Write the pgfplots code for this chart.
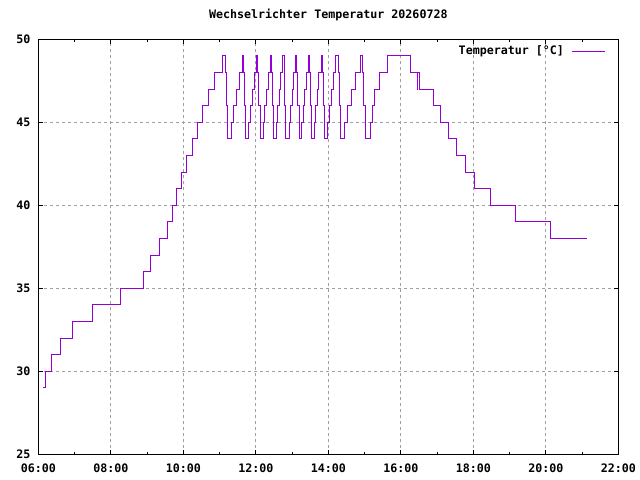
\documentclass[border=0pt]{standalone}
\usepackage{fontspec}
\setmainfont{DejaVu Sans Mono}
\usepackage{pgfplots}
\pgfplotsset{compat=1.18}
\definecolor{gpviolet}{HTML}{9400D3}
\definecolor{gpgrid}{HTML}{A0A0A0}
\newcommand{\gpfont}{\fontsize{11.7}{14}\selectfont\bfseries}
\begin{document}
\begin{tikzpicture}
\useasboundingbox[fill=white] (0,0) rectangle (640bp,480bp);
\begin{axis}[
  at={(38.3bp,25.7bp)}, anchor=south west,
  scale only axis, width=580bp, height=415bp,
  xmin=6, xmax=22, ymin=25, ymax=50,
  xtick={6,8,...,22},
  xticklabels={06:00,08:00,10:00,12:00,14:00,16:00,18:00,20:00,22:00},
  minor xtick={7,9,...,21},
  ytick={25,30,...,50},
  grid=major,
  major grid style={gpgrid, dash pattern=on 3bp off 3bp, line width=1bp},
  tick align=inside,
  major tick length=4.5bp, minor tick length=2.5bp,
  every tick/.style={black, line width=1bp},
  axis line style={line width=1bp},
  /pgf/number format/assume math mode=true,
  tick label style={font=\gpfont},
  xticklabel style={inner sep=0pt, yshift=-9bp},
  yticklabel style={inner sep=0pt, xshift=-7.8bp},
  title={Wechselrichter Temperatur 20260728},
  title style={font=\gpfont, at={(0.5,1)}, anchor=base, inner sep=0pt, yshift=15.3bp},
  legend plot pos=right,
  legend image code/.code={\draw[#1] (0bp,-0.5bp) -- (33bp,-0.5bp);},
  legend style={draw=none, fill=none, font=\gpfont, inner sep=0pt, outer sep=0pt,
    at={(1,1)}, anchor=north east, xshift=-13.3bp, yshift=-6.5bp,
    column sep=7bp, nodes={inner sep=0pt}},
]
\addplot[const plot, gpviolet, line width=1bp] coordinates {
(6.138,29) (6.212,30) (6.359,31) (6.618,32) (6.938,33) (7.495,34) (8.281,35) (8.897,36)
(9.090,37) (9.338,38) (9.570,39) (9.697,40) (9.807,41) (9.964,42) (10.102,43) (10.240,44)
(10.378,45) (10.535,46) (10.690,47) (10.855,48) (11.076,49) (11.159,48) (11.186,46) (11.214,44)
(11.324,45) (11.385,46) (11.461,47) (11.537,48) (11.628,49) (11.666,48) (11.688,46) (11.721,44)
(11.804,45) (11.848,46) (11.903,47) (11.959,48) (12.025,49) (12.052,48) (12.080,46) (12.124,44)
(12.207,45) (12.243,46) (12.290,47) (12.337,48) (12.392,49) (12.428,48) (12.450,46) (12.483,44)
(12.577,45) (12.610,46) (12.651,47) (12.692,48) (12.742,49) (12.778,48) (12.800,46) (12.833,44)
(12.924,45) (12.957,46) (12.999,47) (13.040,48) (13.090,49) (13.128,48) (13.153,46) (13.192,44)
(13.266,45) (13.302,46) (13.349,47) (13.393,48) (13.448,49) (13.476,48) (13.501,46) (13.537,44)
(13.619,45) (13.655,46) (13.699,47) (13.743,48) (13.799,49) (13.846,48) (13.862,46) (13.890,44)
(13.978,45) (14.025,46) (14.083,47) (14.143,48) (14.212,49) (14.276,48) (14.301,46) (14.337,44)
(14.447,45) (14.535,46) (14.646,47) (14.756,48) (14.888,49) (14.930,48) (14.968,46) (15.026,44)
(15.164,45) (15.206,46) (15.288,47) (15.399,48) (15.633,49) (16.268,48) (16.455,47) (16.470,48)
(16.510,47) (16.897,46) (17.090,45) (17.310,44) (17.523,43) (17.790,42) (18.028,41) (18.474,40)
(19.159,39) (20.116,38) (21.145,38)
};
\addlegendentry{Temperatur [°C]}
\end{axis}
\end{tikzpicture}
\end{document}
